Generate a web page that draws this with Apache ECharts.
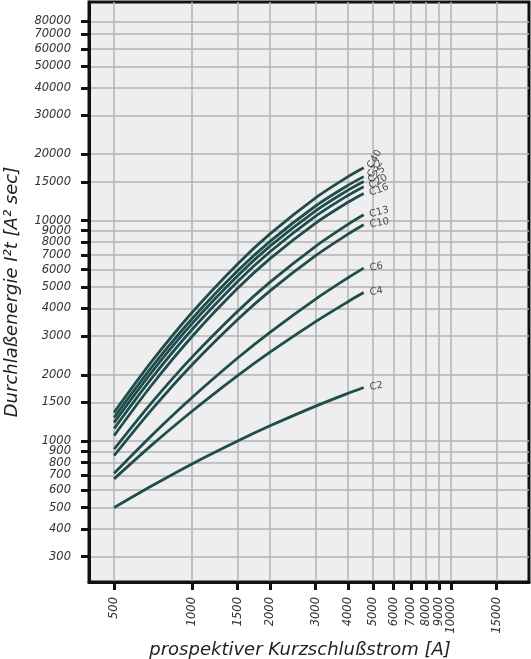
<!DOCTYPE html>
<html><head><meta charset="utf-8">
<script src="https://cdn.jsdelivr.net/npm/echarts@6/dist/echarts.min.js"></script>
<style>html,body{margin:0;padding:0;background:#fff}#c{width:531px;height:659px}</style>
</head><body><div id="c"></div>
<script>
// ---- data ----
const currents = [500, 700, 1000, 1500, 2000, 3000, 4000, 4600];
const curveNames = ['C40','C32','C25','C20','C16','C13','C10','C6','C4','C2'];
const C40 = [1350, 2305, 3833, 6366, 8714, 12694, 15830, 17380];
const C32 = [1280, 2172, 3589, 5920, 8055, 11650, 14450, 15830];
const C25 = [1215, 2063, 3411, 5625, 7661, 11080, 13750, 15060];
const C20 = [1140, 1937, 3209, 5300, 7225, 10470, 13010, 14250];
const C16 = [1060, 1803, 2985, 4934, 6727, 9754, 12120, 13290];
const C13 = [920, 1500, 2406, 3886, 5261, 7651, 9620, 10630];
const C10 = [860, 1394, 2223, 3565, 4806, 6943, 8688, 9580];
const C6  = [715, 1065, 1579, 2384, 3118, 4410, 5507, 6092];
const C4  = [675, 962, 1367, 1982, 2533, 3485, 4291, 4719];
const C2  = [500, 628, 789, 1002, 1174, 1442, 1649, 1753];
const xTicks = [500, 1000, 1500, 2000, 3000, 4000, 5000, 6000, 7000, 8000, 9000, 10000, 15000];
const yTicks = [300, 400, 500, 600, 700, 800, 900, 1000, 1500, 2000, 3000, 4000, 5000, 6000, 7000, 8000, 9000, 10000, 15000, 20000, 30000, 40000, 50000, 60000, 70000, 80000];

// ---- styles ----
const curveValues = [C40, C32, C25, C20, C16, C13, C10, C6, C4, C2];
const labelRotate = [60, 55, 45, 30, 20, 15, 10, 10, 10, 10];
const lineColor = '#1f4c4c';
const font = '"DejaVu Sans", Verdana, sans-serif';

const series = curveNames.map((n, k) => ({
  name: n,
  type: 'line',
  smooth: 0.3,
  showSymbol: false,
  symbol: 'none',
  lineStyle: { color: lineColor, width: 2.8 },
  data: currents.map((x, i) => [x, curveValues[k][i]]),
  z: 3
}));
series.push({
  type: 'scatter',
  symbolSize: 0,
  silent: true,
  data: curveNames.map((n, k) => ({
    value: [currents[currents.length - 1], curveValues[k][currents.length - 1]],
    name: n,
    label: { show: true, position: 'right', distance: 6, rotate: labelRotate[k], formatter: n,
             color: '#222', fontSize: 10, fontFamily: font }
  })),
  z: 4
});

const plain = v => String(Math.round(v));

const chart = echarts.init(document.getElementById('c'), null, { renderer: 'canvas' });
chart.setOption({
  animation: false,
  backgroundColor: '#ffffff',
  grid: { left: 89, right: 2, top: 2, bottom: 77, show: true, backgroundColor: '#eeeeee',
          borderColor: '#111', borderWidth: 3, z: 0, outerBoundsMode: 'none', containLabel: false },
  xAxis: {
    type: 'log', logBase: 10, min: 400, max: 20000,
    name: 'prospektiver Kurzschlußstrom [A]', nameLocation: 'middle', nameGap: 56,
    nameTextStyle: { fontSize: 18, fontStyle: 'italic', color: '#222', fontFamily: font, padding: [0, 18, 0, 0] },
    axisLine: { show: true, lineStyle: { color: '#111', width: 3 } },
    axisTick: { show: true, length: 8, inside: false, lineStyle: { color: '#111', width: 3 }, customValues: xTicks },
    axisLabel: { rotate: 90, margin: 15, fontSize: 11.5, fontStyle: 'italic', color: '#333', fontFamily: font,
                 customValues: xTicks, formatter: plain },
    splitLine: { show: true, lineStyle: { color: '#b3b3b3', width: 1.5 } },
    minorTick: { show: false }, minorSplitLine: { show: false }
  },
  yAxis: {
    type: 'log', logBase: 10, min: 230, max: 98000,
    name: 'Durchlaßenergie I²t [A² sec]', nameLocation: 'middle', nameGap: 68,
    nameTextStyle: { fontSize: 18, fontStyle: 'italic', color: '#222', fontFamily: font },
    axisLine: { show: true, lineStyle: { color: '#111', width: 3 } },
    axisTick: { show: true, length: 8, inside: false, lineStyle: { color: '#111', width: 3 }, customValues: yTicks },
    axisLabel: { margin: 18, fontSize: 11.5, fontStyle: 'italic', color: '#333', fontFamily: font,
                 customValues: yTicks, formatter: plain },
    splitLine: { show: true, lineStyle: { color: '#b3b3b3', width: 1.5 } },
    minorTick: { show: false }, minorSplitLine: { show: false }
  },
  series: series
});
</script></body></html>
